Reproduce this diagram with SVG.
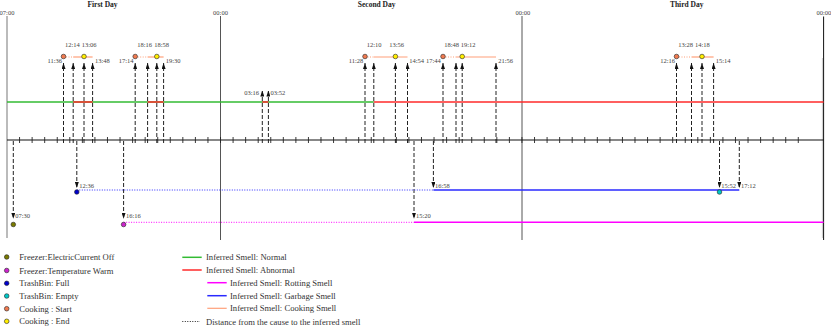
<svg xmlns="http://www.w3.org/2000/svg" width="831" height="327" viewBox="0 0 831 327">
<style>
.bg{fill:#ffffff}
.title{font-family:"Liberation Serif","Times New Roman",serif;font-size:7.5px;font-weight:bold;fill:#222;text-anchor:middle}
.t{font-family:"Liberation Serif","Times New Roman",serif;font-size:6.5px;fill:#444}
.tm{text-anchor:middle}
.te{text-anchor:end}
.lg{font-family:"Liberation Serif","Times New Roman",serif;font-size:8.6px;fill:#333}
.day{stroke:#555;stroke-width:1;fill:none}
.axis{stroke:#111;stroke-width:1.2;fill:none}
.tick{stroke:#222;stroke-width:0.9;fill:none}
.dash{stroke:#222;stroke-width:1;stroke-dasharray:4 2;fill:none}
.up{marker-end:url(#ah)}
.green{stroke:#33bb33;stroke-width:1.5;fill:none}
.red{stroke:#ff2a2a;stroke-width:1.5;fill:none}
.mag{stroke:#ff00ff;stroke-width:1.5;fill:none}
.blue{stroke:#2a2aff;stroke-width:1.5;fill:none}
.cook{stroke:#ffa07a;stroke-width:1.2;fill:none}
.dot{stroke-width:1;stroke-dasharray:1 1.5}
.dist{stroke:#222;stroke-width:1;stroke-dasharray:1 1.5;fill:none}
.c{stroke:#222;stroke-width:0.6}
.off{fill:#7a7a00}
.warm{fill:#cc22cc}
.full{fill:#0000cc}
.empty{fill:#00c8c8}
.cs{fill:#f07a50}
.ce{fill:#ffee00}
</style>
<defs>
<marker id="ah" viewBox="0 0 6 4" refX="6" refY="2" markerWidth="6" markerHeight="4" markerUnits="userSpaceOnUse" orient="auto">
<path d="M0,0 L6,2 L0,4 Z" fill="#111"/>
</marker>
</defs>
<rect class="bg" x="0" y="0" width="831" height="327"/>

<g id="titles">
<text class="title" x="102.5" y="6.5">First Day</text>
<text class="title" x="376.7" y="6.5">Second Day</text>
<text class="title" x="686.7" y="6.5">Third Day</text>
</g>

<g id="day-lines">
<line x1="7" y1="16" x2="7" y2="238" stroke="#aaaaaa" stroke-width="1.6"/>
<line class="day" x1="220.5" y1="16" x2="220.5" y2="240"/>
<line class="day" x1="522" y1="16" x2="522" y2="240"/>
<line x1="822.4" y1="58" x2="822.4" y2="238" stroke="#cccccc" stroke-width="1"/>
<line x1="823.6" y1="16.5" x2="823.6" y2="240" stroke="#111" stroke-width="1"/>
<text class="t tm" x="7" y="14.7">07:00</text>
<text class="t tm" x="220.5" y="14.7">00:00</text>
<text class="t tm" x="522.8" y="14.7">00:00</text>
<text class="t tm" x="823.8" y="14.7">00:00</text>
</g>

<g id="axis">
<line class="axis" x1="7" y1="140" x2="823.6" y2="140"/>
<path class="tick" d="M19.56,137v6m12.56,-6v6m12.56,-6v6m12.56,-6v6m12.56,-6v6m12.56,-6v6m12.56,-6v6m12.56,-6v6m12.56,-6v6m12.56,-6v6m12.56,-6v6m12.56,-6v6m12.56,-6v6m12.56,-6v6m12.56,-6v6m12.56,-6v6m12.56,-6v6m12.56,-6v6m12.56,-6v6m12.56,-6v6m12.56,-6v6m12.56,-6v6m12.56,-6v6m12.56,-6v6m12.56,-6v6m12.56,-6v6m12.56,-6v6m12.56,-6v6m12.56,-6v6m12.56,-6v6m12.56,-6v6m12.56,-6v6m12.56,-6v6m12.56,-6v6m12.56,-6v6m12.56,-6v6m12.56,-6v6m12.56,-6v6m12.56,-6v6m12.56,-6v6m12.56,-6v6m12.56,-6v6m12.56,-6v6m12.56,-6v6m12.56,-6v6m12.56,-6v6m12.56,-6v6m12.56,-6v6m12.56,-6v6m12.56,-6v6m12.56,-6v6m12.56,-6v6m12.56,-6v6m12.56,-6v6m12.56,-6v6m12.56,-6v6m12.56,-6v6m12.56,-6v6m12.56,-6v6m12.56,-6v6m12.56,-6v6m12.56,-6v6m12.56,-6v6"/>
</g>

<g id="smell-state">
<line class="green" x1="7" y1="102" x2="373.8" y2="102"/>
<line class="red" x1="73.2" y1="102" x2="92.6" y2="102"/>
<line class="red" x1="147.6" y1="102" x2="163.6" y2="102"/>
<line class="red" x1="262.3" y1="102" x2="268.4" y2="102"/>
<line class="red" x1="373.8" y1="102" x2="823.6" y2="102"/>
</g>

<g id="connectors">
<line class="dash up" x1="63.5" y1="143" x2="63.5" y2="63"/>
<line class="dash up" x1="73.2" y1="143" x2="73.2" y2="63"/>
<line class="dash up" x1="84" y1="143" x2="84" y2="63"/>
<line class="dash up" x1="92.6" y1="143" x2="92.6" y2="63"/>
<line class="dash up" x1="135.2" y1="143" x2="135.2" y2="63"/>
<line class="dash up" x1="147.6" y1="143" x2="147.6" y2="63"/>
<line class="dash up" x1="156.8" y1="143" x2="156.8" y2="63"/>
<line class="dash up" x1="163.6" y1="143" x2="163.6" y2="63"/>
<line class="dash up" x1="262.3" y1="143" x2="262.3" y2="90.5"/>
<line class="dash up" x1="268.4" y1="143" x2="268.4" y2="90.5"/>
<line class="dash up" x1="365" y1="143" x2="365" y2="63"/>
<line class="dash up" x1="373.8" y1="143" x2="373.8" y2="63"/>
<line class="dash up" x1="395.4" y1="143" x2="395.4" y2="63"/>
<line class="dash up" x1="407.5" y1="143" x2="407.5" y2="63"/>
<line class="dash up" x1="443" y1="143" x2="443" y2="63"/>
<line class="dash up" x1="456" y1="143" x2="456" y2="63"/>
<line class="dash up" x1="462.2" y1="143" x2="462.2" y2="63"/>
<line class="dash up" x1="496" y1="143" x2="496" y2="63"/>
<line class="dash up" x1="676.5" y1="143" x2="676.5" y2="63"/>
<line class="dash up" x1="691.5" y1="143" x2="691.5" y2="63"/>
<line class="dash up" x1="702" y1="143" x2="702" y2="63"/>
<line class="dash up" x1="713.6" y1="143" x2="713.6" y2="63"/>
<line class="dash up" x1="13.3" y1="141" x2="13.3" y2="218.8"/>
<line class="dash up" x1="76.8" y1="141" x2="76.8" y2="188"/>
<line class="dash up" x1="123.6" y1="141" x2="123.6" y2="218.8"/>
<line class="dash up" x1="414" y1="141" x2="414" y2="218.8"/>
<line class="dash up" x1="433.4" y1="141" x2="433.4" y2="188"/>
<line class="dash up" x1="719.5" y1="141" x2="719.5" y2="188"/>
<line class="dash up" x1="739.3" y1="141" x2="739.3" y2="188"/>
</g>

<g id="cooking-1">
<line class="cook dot" x1="63.5" y1="57" x2="73.2" y2="57"/>
<line class="cook" x1="73.2" y1="57" x2="92.6" y2="57"/>
<circle class="c cs" cx="63.5" cy="56.5" r="2.3"/>
<circle class="c ce" cx="84" cy="56.5" r="2.3"/>
<text class="t te" x="62" y="63.2">11:36</text>
<text class="t" x="65" y="47.2">12:14</text>
<text class="t" x="81.7" y="47.2">13:06</text>
<text class="t" x="95" y="63.2">13:48</text>
</g>
<g id="cooking-2">
<line class="cook dot" x1="135.2" y1="57" x2="147.6" y2="57"/>
<line class="cook" x1="147.6" y1="57" x2="163.6" y2="57"/>
<circle class="c cs" cx="135.2" cy="56.5" r="2.3"/>
<circle class="c ce" cx="156.8" cy="56.5" r="2.3"/>
<text class="t te" x="133.5" y="63.2">17:14</text>
<text class="t" x="137.3" y="47.2">18:16</text>
<text class="t" x="154.3" y="47.2">18:58</text>
<text class="t" x="165.7" y="63.2">19:30</text>
</g>
<g id="abnormal-night">
<text class="t te" x="259" y="95.2">03:16</text>
<text class="t" x="270.5" y="95.2">03:52</text>
</g>
<g id="cooking-3">
<line class="cook dot" x1="365" y1="57" x2="373.8" y2="57"/>
<line class="cook" x1="373.8" y1="57" x2="407.5" y2="57"/>
<circle class="c cs" cx="365" cy="56.5" r="2.3"/>
<circle class="c ce" cx="395.4" cy="56.5" r="2.3"/>
<text class="t te" x="363.3" y="63.2">11:28</text>
<text class="t" x="366.7" y="47.2">12:10</text>
<text class="t" x="389.3" y="47.2">13:56</text>
<text class="t" x="409.3" y="63.2">14:54</text>
</g>
<g id="cooking-4">
<line class="cook dot" x1="443" y1="57" x2="456" y2="57"/>
<line class="cook" x1="456" y1="57" x2="496" y2="57"/>
<circle class="c cs" cx="443" cy="56.5" r="2.3"/>
<circle class="c ce" cx="462.2" cy="56.5" r="2.3"/>
<text class="t te" x="440.8" y="63.2">17:44</text>
<text class="t" x="444.3" y="47.2">18:48</text>
<text class="t" x="460.7" y="47.2">19:12</text>
<text class="t" x="498.3" y="63.2">21:56</text>
</g>
<g id="cooking-5">
<line class="cook dot" x1="676.5" y1="57" x2="691.5" y2="57"/>
<line class="cook" x1="691.5" y1="57" x2="713.6" y2="57"/>
<circle class="c cs" cx="676.5" cy="56.5" r="2.3"/>
<circle class="c ce" cx="702" cy="56.5" r="2.3"/>
<text class="t te" x="675" y="63.2">12:16</text>
<text class="t" x="678.3" y="47.2">13:28</text>
<text class="t" x="695" y="47.2">14:18</text>
<text class="t" x="715.7" y="63.2">15:14</text>
</g>

<g id="garbage-smell">
<line class="blue dot" x1="76.8" y1="190" x2="433.4" y2="190"/>
<line class="blue" x1="433.4" y1="190" x2="739.3" y2="190"/>
<circle class="c full" cx="76.8" cy="192" r="2.3"/>
<circle class="c empty" cx="719.5" cy="192" r="2.3"/>
<text class="t" x="79.3" y="187.5">12:36</text>
<text class="t" x="435" y="187.5">16:58</text>
<text class="t" x="721.2" y="187.5">15:52</text>
<text class="t" x="741" y="187.5">17:12</text>
</g>
<g id="rotting-smell">
<line class="mag dot" x1="123.6" y1="222.3" x2="414" y2="222.3"/>
<line class="mag" x1="414" y1="222.3" x2="823.6" y2="222.3"/>
<circle class="c warm" cx="123.6" cy="224.5" r="2.3"/>
<text class="t" x="126" y="218.2">16:16</text>
<text class="t" x="416" y="218.2">15:20</text>
</g>
<g id="freezer-off">
<circle class="c off" cx="13.3" cy="224.5" r="2.3"/>
<text class="t" x="15.3" y="218.2">07:30</text>
</g>

<g id="legend">
<circle class="c off" cx="6.7" cy="257" r="2.3"/>
<text class="lg" x="19.3" y="260">Freezer:ElectricCurrent Off</text>
<circle class="c warm" cx="6.7" cy="270.5" r="2.3"/>
<text class="lg" x="19.3" y="273.5">Freezer:Temperature Warm</text>
<circle class="c full" cx="6.7" cy="283.3" r="2.3"/>
<text class="lg" x="19.3" y="286.3">TrashBin: Full</text>
<circle class="c empty" cx="6.7" cy="296" r="2.3"/>
<text class="lg" x="19.3" y="299">TrashBin: Empty</text>
<circle class="c cs" cx="6.7" cy="308.7" r="2.3"/>
<text class="lg" x="19.3" y="311.7">Cooking : Start</text>
<circle class="c ce" cx="6.7" cy="321.3" r="2.3"/>
<text class="lg" x="19.3" y="324.3">Cooking : End</text>

<line class="green" x1="182.3" y1="257.3" x2="201.7" y2="257.3"/>
<text class="lg" x="206" y="260.3">Inferred Smell: Normal</text>
<line class="red" x1="182.3" y1="270" x2="201.7" y2="270"/>
<text class="lg" x="206" y="273">Inferred Smell: Abnormal</text>
<line class="mag" x1="207.3" y1="282.7" x2="226.7" y2="282.7"/>
<text class="lg" x="230" y="285.7">Inferred Smell: Rotting Smell</text>
<line class="blue" x1="207.3" y1="295.7" x2="226.7" y2="295.7"/>
<text class="lg" x="230" y="298.7">Inferred Smell: Garbage Smell</text>
<line class="cook" stroke-width="1.5" x1="207.3" y1="308.3" x2="226.7" y2="308.3"/>
<text class="lg" x="230" y="311.3">Inferred Smell: Cooking Smell</text>
<line class="dist" x1="182.3" y1="321.5" x2="200" y2="321.5"/>
<text class="lg" x="206" y="324.5">Distance from the cause to the inferred smell</text>
</g>
</svg>
